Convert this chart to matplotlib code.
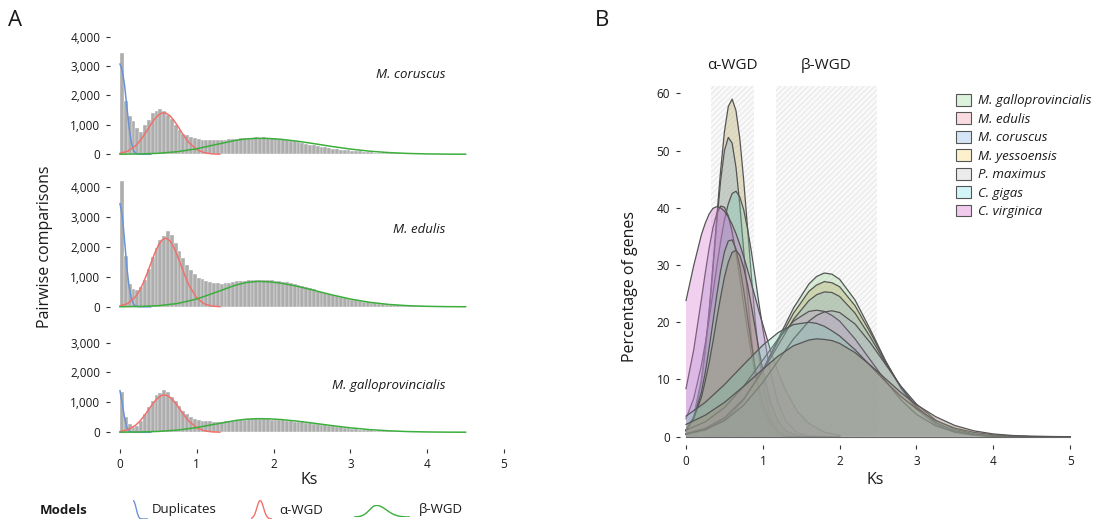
import numpy as np
import matplotlib
matplotlib.use("Agg")
import matplotlib.pyplot as plt
from matplotlib.patches import Patch
from matplotlib.ticker import FuncFormatter

plt.rcParams['font.family'] = ['Open Sans', 'DejaVu Sans']
plt.rcParams['hatch.linewidth'] = 0.6

# ---------------- panel A data: Ks histograms + fitted models ----------------
bin_width = 0.05
ks_bins = np.round(np.arange(100) * bin_width, 2)

hist_coruscus = [3440, 1800, 1300, 1120, 900, 760, 1000, 1170, 1400, 1470, 1540, 1470, 1340, 1200, 1000, 820, 700, 640, 580, 540,
                 510, 500, 480, 470, 475, 480, 490, 500, 510, 520, 530, 545, 550, 560, 565, 590, 570, 575, 560, 555,
                 540, 525, 505, 485, 460, 435, 410, 385, 355, 330, 305, 280, 258, 235, 215, 195, 178, 160, 145, 130,
                 118, 105, 95, 85, 76, 68, 60, 53, 47, 42, 37, 33, 29, 26, 23, 20, 18, 16, 14, 12,
                 11, 10, 9, 8, 8, 7, 6, 6, 5, 5, 4, 4, 4, 3, 3, 3, 2, 2, 2, 2]
hist_edulis = [4190, 1700, 760, 590, 565, 650, 900, 1250, 1650, 1980, 2250, 2380, 2520, 2400, 2150, 1880, 1620, 1400, 1240, 1100,
               980, 920, 870, 840, 800, 780, 770, 790, 810, 830, 850, 860, 870, 880, 890, 900, 905, 910, 900, 890,
               875, 860, 840, 815, 790, 760, 730, 695, 660, 620, 580, 545, 505, 470, 435, 400, 365, 330, 300, 270,
               240, 215, 190, 168, 148, 130, 113, 98, 85, 73, 63, 54, 46, 40, 34, 29, 25, 22, 19, 17,
               15, 13, 12, 11, 10, 9, 8, 7, 6, 6, 5, 5, 4, 4, 4, 3, 3, 3, 2, 2]
hist_gallo = [1330, 520, 260, 190, 200, 370, 600, 830, 1060, 1250, 1320, 1400, 1330, 1190, 1040, 880, 720, 600, 520, 460,
              420, 390, 375, 360, 355, 350, 355, 360, 375, 390, 400, 410, 420, 430, 435, 440, 445, 440, 435, 425,
              420, 410, 398, 385, 372, 358, 343, 328, 312, 296, 280, 262, 245, 228, 210, 193, 177, 160, 145, 130,
              116, 103, 91, 80, 70, 61, 53, 46, 40, 35, 30, 26, 22, 19, 16, 14, 12, 10, 9, 8,
              7, 6, 6, 5, 5, 4, 4, 4, 3, 3, 3, 2, 2, 2, 2, 2, 1, 1, 1, 1]

dup_ks = [0, 0.03, 0.06, 0.09, 0.12, 0.15, 0.18, 0.21, 0.25, 0.3, 0.35, 0.4]
dup_coruscus = [3070, 2850, 2350, 1600, 880, 380, 110, 25, 5, 1, 0, 0]
dup_edulis = [3445, 3050, 2200, 1300, 650, 260, 80, 20, 4, 1, 0, 0]
dup_gallo = [1390, 950, 480, 160, 35, 6, 1, 0, 0, 0, 0, 0]

alpha_ks = [0, 0.1, 0.2, 0.25, 0.3, 0.35, 0.4, 0.45, 0.5, 0.55, 0.6, 0.65, 0.7, 0.75, 0.8, 0.85, 0.9, 1.0, 1.1, 1.2, 1.3]
alpha_coruscus = [31, 105, 282, 424, 600, 800, 1007, 1194, 1336, 1408, 1400, 1312, 1160, 966, 759, 562, 392, 160, 52, 13, 3]
alpha_edulis = [28, 109, 330, 523, 780, 1092, 1436, 1773, 2057, 2242, 2297, 2209, 1996, 1695, 1351, 1013, 712, 293, 94, 23, 5]
alpha_gallo = [23, 82, 228, 347, 498, 673, 857, 1028, 1163, 1238, 1243, 1175, 1047, 879, 695, 518, 364, 150, 49, 12, 3]

beta_ks = [0, 0.25, 0.5, 0.75, 1.0, 1.25, 1.5, 1.65, 1.8, 1.95, 2.1, 2.3, 2.5, 2.75, 3.0, 3.25, 3.5, 3.75, 4.0, 4.25, 4.5]
beta_coruscus = [2.6, 10, 33, 88, 189, 331, 470, 525, 545, 536, 508, 448, 372, 269, 177, 105, 57, 28, 12, 5, 2]
beta_edulis = [2, 10, 37, 111, 260, 486, 720, 815, 850, 834, 789, 692, 568, 405, 260, 151, 79, 37, 16, 6, 2]
beta_gallo = [2, 9, 28, 73, 158, 276, 392, 438, 455, 448, 424, 374, 311, 225, 148, 88, 48, 23, 10, 4, 1.5]

panel_species = ["M. coruscus", "M. edulis", "M. galloprovincialis"]
panel_hist = [hist_coruscus, hist_edulis, hist_gallo]
panel_dup = [dup_coruscus, dup_edulis, dup_gallo]
panel_alpha = [alpha_coruscus, alpha_edulis, alpha_gallo]
panel_beta = [beta_coruscus, beta_edulis, beta_gallo]
panel_label_y = [2700, 2570, 1550]
panel_yticks = [[0, 1000, 2000, 3000, 4000], [0, 1000, 2000, 3000, 4000], [0, 1000, 2000, 3000]]
model_names = ["Duplicates", "α-WGD", "β-WGD"]

# ---------------- panel B data: fitted WGD components ----------------
species = ["M. galloprovincialis", "M. edulis", "M. coruscus", "M. yessoensis",
           "P. maximus", "C. gigas", "C. virginica"]

b_alpha_ks = [0, 0.1, 0.2, 0.25, 0.3, 0.35, 0.4, 0.45, 0.5, 0.55, 0.6, 0.65, 0.7, 0.75,
              0.8, 0.85, 0.9, 0.95, 1.0, 1.1, 1.2, 1.3, 1.45, 1.6, 1.8, 2.0]
b_alpha = {
    "M. galloprovincialis": [1.07, 3.2, 7.8, 11.2, 15.4, 20.0, 24.7, 29.0, 32.3, 34.2, 34.4, 32.8, 29.7, 25.6,
                             20.9, 16.3, 12.0, 8.4, 5.6, 2.1, 0.65, 0.16, 0.02, 0, 0, 0],
    "M. edulis": [8.4, 15.2, 24.0, 28.6, 32.9, 36.5, 39.0, 40.3, 40.1, 38.6, 35.8, 32.1, 27.7, 23.1,
                  18.6, 14.5, 10.8, 7.8, 5.5, 2.4, 0.9, 0.3, 0.05, 0, 0, 0],
    "M. coruscus": [0.85, 3.24, 9.5, 14.8, 21.5, 29.3, 37.4, 44.7, 50.0, 52.3, 51.3, 47.1, 40.5, 32.6,
                    24.6, 17.3, 11.5, 7.1, 4.1, 1.1, 0.24, 0.05, 0, 0, 0, 0],
    "M. yessoensis": [1.07, 3.67, 10.06, 15.3, 22.0, 29.9, 38.3, 46.5, 53.3, 57.7, 59.0, 57.0, 52.1, 44.9,
                      36.6, 28.2, 20.5, 14.1, 9.2, 3.3, 0.9, 0.2, 0, 0, 0, 0],
    "P. maximus": [1.23, 3.2, 6.9, 9.7, 12.9, 16.6, 20.6, 24.4, 27.9, 30.5, 32.2, 32.6, 31.7, 29.6,
                   26.6, 22.9, 19.0, 15.1, 11.6, 6.0, 2.65, 1.0, 0.17, 0.02, 0, 0],
    "C. gigas": [3.15, 6.7, 12.5, 16.3, 20.5, 25.1, 29.7, 34.1, 37.9, 40.7, 42.5, 42.9, 41.9, 39.7,
                 36.4, 32.4, 27.9, 23.2, 18.8, 11.1, 5.8, 2.7, 0.65, 0.12, 0, 0],
    "C. virginica": [23.8, 29.9, 35.3, 37.3, 38.9, 39.9, 40.2, 40.0, 39.4, 38.4, 37.1, 35.5, 33.6, 31.5,
                     29.2, 26.8, 24.4, 21.9, 19.6, 15.1, 11.2, 8.0, 4.4, 2.3, 0.8, 0.24],
}

b_beta_ks = [0, 0.25, 0.5, 0.75, 1.0, 1.2, 1.4, 1.6, 1.7, 1.8, 1.9, 2.0, 2.2, 2.4, 2.6, 2.8,
             3.0, 3.25, 3.5, 3.75, 4.0, 4.25, 4.5, 4.75, 5.0]
b_beta = {
    "M. galloprovincialis": [0.37, 1.11, 2.87, 6.27, 11.7, 17.1, 22.5, 26.7, 28.0, 28.6, 28.4, 27.5, 23.9, 18.7,
                             13.2, 8.4, 4.8, 2.08, 0.76, 0.24, 0.06, 0.01, 0, 0, 0],
    "M. edulis": [0.48, 1.24, 2.8, 5.5, 9.5, 13.3, 17.1, 20.2, 21.2, 21.8, 22.0, 21.7, 19.7, 16.4,
                  12.6, 8.8, 5.7, 2.9, 1.29, 0.5, 0.17, 0.05, 0.01, 0, 0],
    "M. coruscus": [0.54, 1.44, 3.32, 6.6, 11.5, 16.0, 20.5, 23.8, 24.8, 25.3, 25.2, 24.5, 21.6, 17.4,
                    12.8, 8.6, 5.3, 2.5, 1.03, 0.37, 0.11, 0.03, 0.01, 0, 0],
    "M. yessoensis": [0.45, 1.29, 3.13, 6.5, 11.7, 16.7, 21.6, 25.4, 26.5, 27.1, 26.9, 26.2, 22.9, 18.2,
                      13.1, 8.6, 5.1, 2.3, 0.9, 0.3, 0.09, 0.02, 0, 0, 0],
    "P. maximus": [2.15, 3.76, 6.0, 8.8, 11.8, 14.1, 15.9, 16.9, 17.1, 17.0, 16.8, 16.3, 14.7, 12.5,
                   10.1, 7.7, 5.6, 3.5, 1.96, 1.02, 0.48, 0.21, 0.08, 0.03, 0.01],
    "C. gigas": [3.6, 6.0, 9.1, 12.6, 16.0, 18.2, 19.6, 20.0, 19.8, 19.3, 18.5, 17.6, 15.2, 12.4,
                 9.6, 7.0, 4.9, 2.8, 1.5, 0.75, 0.34, 0.14, 0.05, 0.02, 0],
    "C. virginica": [1.16, 2.59, 5.1, 8.8, 13.4, 17.1, 20.2, 21.9, 22.1, 21.9, 21.2, 20.2, 17.1, 13.4,
                     9.7, 6.4, 3.9, 1.9, 0.81, 0.30, 0.10, 0.03, 0.01, 0, 0],
}

wgd_names = ["α-WGD", "β-WGD"]
wgd_start = [0.33, 1.17]
wgd_end = [0.88, 2.48]
wgd_top = 61.3

# ---------------- styles ----------------
W, H = 1105, 522
txt = "#1a1a1a"
model_colors = ["#6a93d4", "#f0716b", "#3cae3c"]
fill_colors = {"M. galloprovincialis": "#90cf88", "M. edulis": "#a596d2", "M. coruscus": "#8fb0cc",
               "M. yessoensis": "#b9ab68", "P. maximus": "#9e8c7c", "C. gigas": "#7cc9b0",
               "C. virginica": "#d26fcf"}
alpha_fill_alpha = {"M. galloprovincialis": 0.33, "M. edulis": 0.33, "M. coruscus": 0.33,
                    "M. yessoensis": 0.36, "P. maximus": 0.42, "C. gigas": 0.33, "C. virginica": 0.33}
beta_fill_alpha = {"M. galloprovincialis": 0.3, "M. edulis": 0.15, "M. coruscus": 0.3,
                   "M. yessoensis": 0.33, "P. maximus": 0.42, "C. gigas": 0.3, "C. virginica": 0.15}
swatch_colors = {"M. galloprovincialis": "#dcf2dc", "M. edulis": "#fadbe1", "M. coruscus": "#d5e5f5",
                 "M. yessoensis": "#fcf0cd", "P. maximus": "#ebebeb", "C. gigas": "#d3f5f7",
                 "C. virginica": "#f1caee"}


def px_axes(fig, left, top, right, bottom):
    return fig.add_axes([left / W, 1 - bottom / H, (right - left) / W, (bottom - top) / H])


def clean(ax):
    for s in ax.spines.values():
        s.set_visible(False)
    ax.tick_params(length=3, width=0.8, pad=4, labelsize=8.5, colors="#333333", labelcolor=txt)


fig = plt.figure(figsize=(W / 100, H / 100), dpi=100)

# ---------------- panel A ----------------
a_boxes = [(29.35, 157.8, -120, 4250), (179.7, 310.4, -120, 4250), (335.1, 448.7, -550, 3250)]
comma = FuncFormatter(lambda v, p: f"{v:,.0f}")
for i, (top, bot, y0, y1) in enumerate(a_boxes):
    ax = px_axes(fig, 110.0, top, 505.5, bot)
    clean(ax)
    ax.bar(ks_bins, panel_hist[i], width=bin_width, align="edge", color="#adadad",
           edgecolor="white", linewidth=0.25)
    ax.plot(dup_ks, panel_dup[i], color=model_colors[0], lw=1.1)
    ax.plot(alpha_ks, panel_alpha[i], color=model_colors[1], lw=1.1)
    ax.plot(beta_ks, panel_beta[i], color=model_colors[2], lw=1.1)
    ax.set_xlim(-0.13, 5.02)
    ax.set_ylim(y0, y1)
    ax.set_yticks(panel_yticks[i])
    ax.yaxis.set_major_formatter(comma)
    ax.text(4.24, panel_label_y[i], panel_species[i], ha="right", va="center",
            fontsize=9.5, fontstyle="italic", color=txt)
    if i < 2:
        ax.set_xticks([])
    else:
        ax.set_xticks([0, 1, 2, 3, 4, 5])

fig.text(15 / W, 1 - 21 / H, "A", fontsize=16, ha="center", va="center", color=txt)
fig.text(45 / W, 1 - 247 / H, "Pairwise comparisons", rotation=90, fontsize=11.5,
         ha="center", va="center", color=txt)
fig.text(309 / W, 1 - 480 / H, "Ks", fontsize=11.5, ha="center", va="center", color=txt)

# models legend
fig.text(40 / W, 1 - 510 / H, "Models", fontsize=9.5, fontweight="bold", ha="left", va="center", color=txt)
glyphs = [(133, 500, 148, 519, dup_ks, dup_coruscus, 0.4, 3100),
          (251, 500, 272, 519, alpha_ks, alpha_coruscus, 1.3, 1450),
          (354, 505, 410, 517, beta_ks, beta_coruscus, 4.5, 560)]
label_x = [152, 279, 419]
for j, (l, t, r, b, kx, ky, xmax, ymax) in enumerate(glyphs):
    gax = px_axes(fig, l, t, r, b)
    gax.plot(kx, ky, color=model_colors[j], lw=1.0)
    gax.set_xlim(0, xmax)
    gax.set_ylim(0, ymax)
    gax.axis("off")
    fig.text(label_x[j] / W, 1 - 510 / H, model_names[j], fontsize=9.5, ha="left", va="center", color=txt)

# ---------------- panel B ----------------
bx = px_axes(fig, 679.9, 81.9, 1071.6, 445.0)
clean(bx)
bx.set_xlim(-0.08, 5.02)
bx.set_ylim(-1.45, 62)
bx.set_xticks([0, 1, 2, 3, 4, 5])
bx.set_yticks([0, 10, 20, 30, 40, 50, 60])

for k in range(len(wgd_names)):
    bx.fill_between([wgd_start[k], wgd_end[k]], 0, wgd_top, facecolor="#f9f9f9",
                    edgecolor="#e4e4e4", hatch="//////", linewidth=0, zorder=0)
    bx.text((wgd_start[k] + wgd_end[k]) / 2, 64.9, wgd_names[k], ha="center", va="center",
            fontsize=11, color=txt, clip_on=False)

curves = []
for sp in species:
    curves.append((b_alpha_ks, b_alpha[sp], sp, alpha_fill_alpha[sp]))
    curves.append((b_beta_ks, b_beta[sp], sp, beta_fill_alpha[sp]))
curves.sort(key=lambda c: -max(c[1]))
for z, (kx, ky, sp, a) in enumerate(curves):
    bx.fill_between(kx, 0, ky, facecolor=fill_colors[sp], alpha=a, linewidth=0, zorder=2 + z)
    bx.plot(kx, ky, color="#555555", lw=0.9, zorder=2 + z)
bx.axhline(0, xmin=0.08 / 5.1, xmax=5.0 / 5.1 + 0.08 / 5.1, color="#666666", lw=0.8, zorder=40)

handles = [Patch(facecolor=swatch_colors[sp], edgecolor="#555555", linewidth=0.8) for sp in species]
leg = fig.legend(handles, species, loc="upper left", bbox_to_anchor=(956 / W, 1 - 94 / H),
                 frameon=False, borderpad=0, borderaxespad=0, handlelength=1.1, handleheight=1.0,
                 handletextpad=0.6, labelspacing=0.38, prop={"size": 9.5, "style": "italic"})
for t in leg.get_texts():
    t.set_color(txt)

fig.text(602 / W, 1 - 21 / H, "B", fontsize=16, ha="center", va="center", color=txt)
fig.text(630 / W, 1 - 286 / H, "Percentage of genes", rotation=90, fontsize=11.5,
         ha="center", va="center", color=txt)
fig.text(875 / W, 1 - 480 / H, "Ks", fontsize=11.5, ha="center", va="center", color=txt)

fig.savefig("out.png", dpi=100)
